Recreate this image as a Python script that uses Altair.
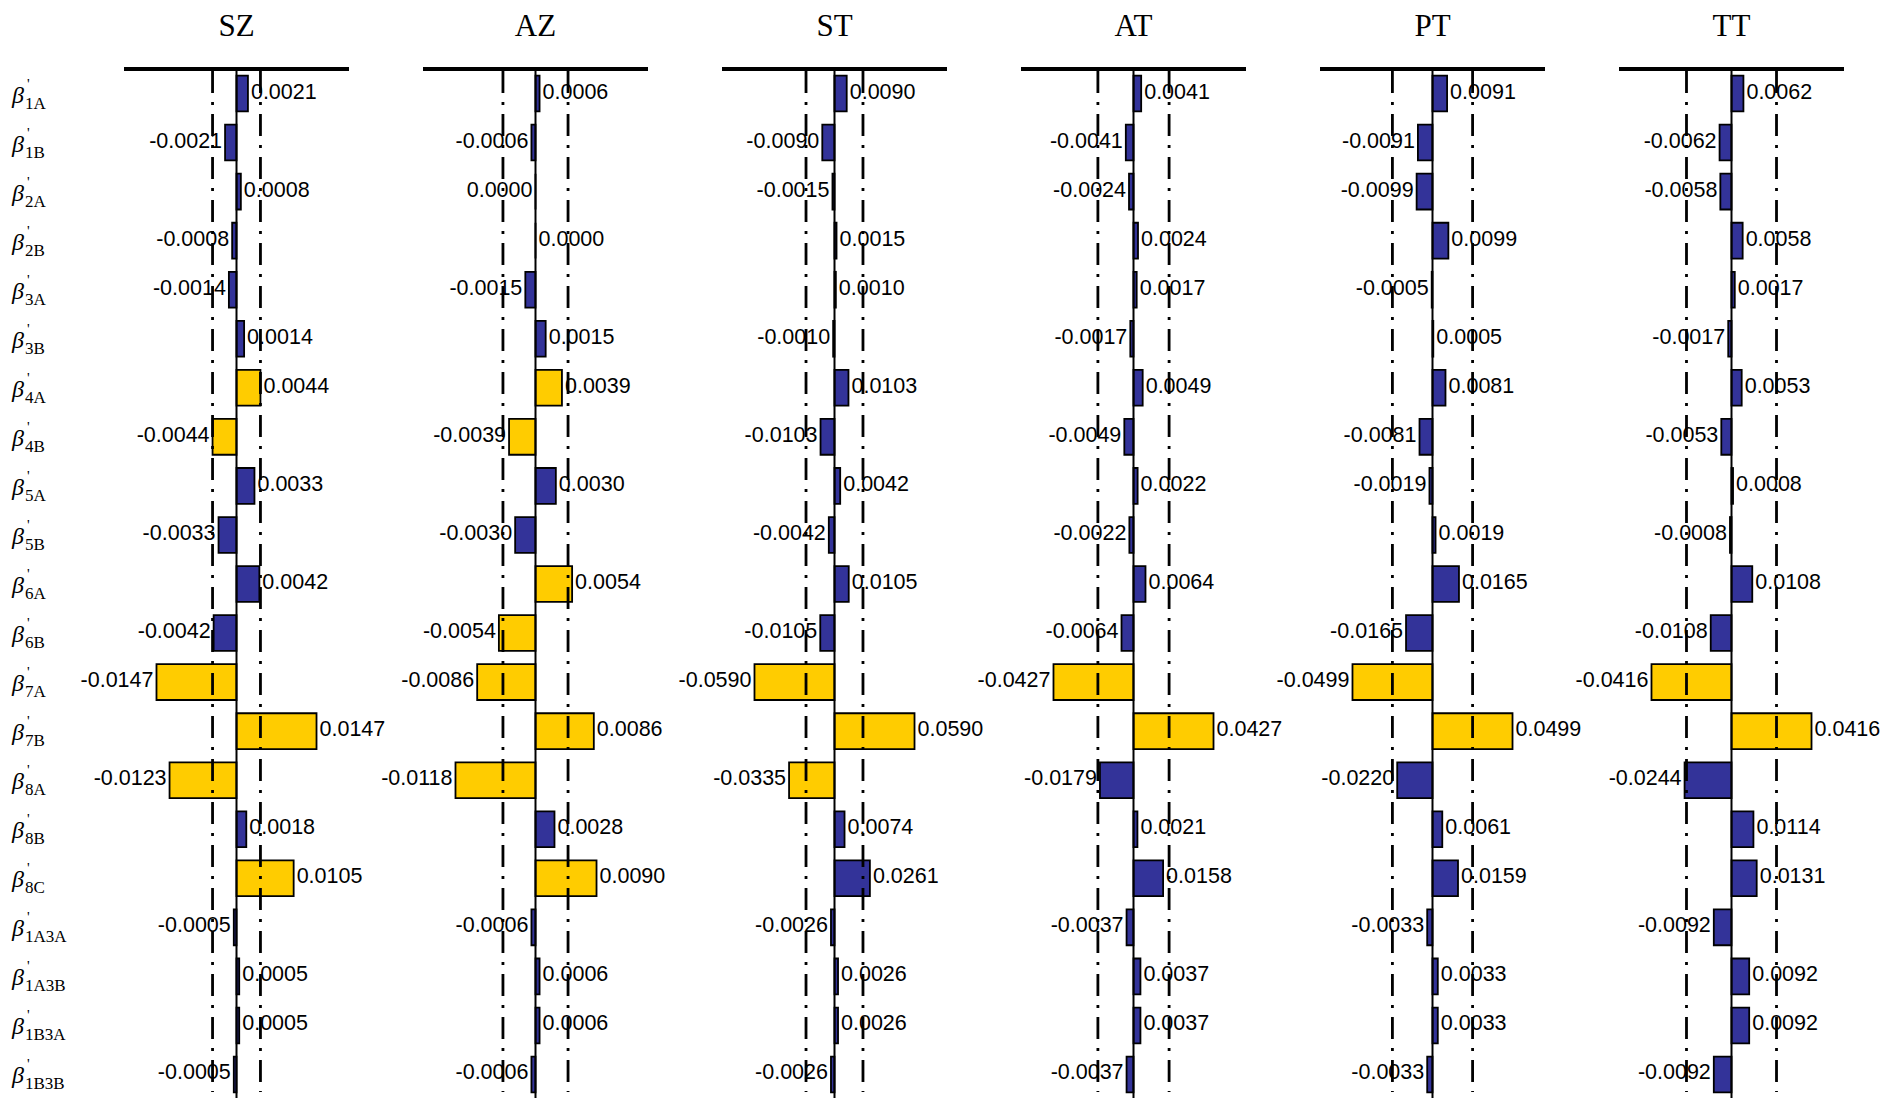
import math

import altair as alt
import pandas as pd

# Parameter rows, top to bottom
params = ["1A", "1B", "2A", "2B", "3A", "3B", "4A", "4B", "5A", "5B", "6A", "6B",
          "7A", "7B", "8A", "8B", "8C", "1A3A", "1A3B", "1B3A", "1B3B"]

# Panels (model outputs)
models = ["SZ", "AZ", "ST", "AT", "PT", "TT"]

# Sensitivity values per panel, in the order of `params`
sz = [0.0021, -0.0021, 0.0008, -0.0008, -0.0014, 0.0014, 0.0044, -0.0044, 0.0033, -0.0033,
      0.0042, -0.0042, -0.0147, 0.0147, -0.0123, 0.0018, 0.0105, -0.0005, 0.0005, 0.0005, -0.0005]
az = [0.0006, -0.0006, -0.0, 0.0, -0.0015, 0.0015, 0.0039, -0.0039, 0.0030, -0.0030,
      0.0054, -0.0054, -0.0086, 0.0086, -0.0118, 0.0028, 0.0090, -0.0006, 0.0006, 0.0006, -0.0006]
st = [0.0090, -0.0090, -0.0015, 0.0015, 0.0010, -0.0010, 0.0103, -0.0103, 0.0042, -0.0042,
      0.0105, -0.0105, -0.0590, 0.0590, -0.0335, 0.0074, 0.0261, -0.0026, 0.0026, 0.0026, -0.0026]
at = [0.0041, -0.0041, -0.0024, 0.0024, 0.0017, -0.0017, 0.0049, -0.0049, 0.0022, -0.0022,
      0.0064, -0.0064, -0.0427, 0.0427, -0.0179, 0.0021, 0.0158, -0.0037, 0.0037, 0.0037, -0.0037]
pt = [0.0091, -0.0091, -0.0099, 0.0099, -0.0005, 0.0005, 0.0081, -0.0081, -0.0019, 0.0019,
      0.0165, -0.0165, -0.0499, 0.0499, -0.0220, 0.0061, 0.0159, -0.0033, 0.0033, 0.0033, -0.0033]
tt = [0.0062, -0.0062, -0.0058, 0.0058, 0.0017, -0.0017, 0.0053, -0.0053, 0.0008, -0.0008,
      0.0108, -0.0108, -0.0416, 0.0416, -0.0244, 0.0114, 0.0131, -0.0092, 0.0092, 0.0092, -0.0092]
series = [sz, az, st, at, pt, tt]

# Parameters flagged as influential in each panel
flagged = [
    ["4A", "4B", "7A", "7B", "8A", "8C"],
    ["4A", "4B", "6A", "6B", "7A", "7B", "8A", "8C"],
    ["7A", "7B", "8A"],
    ["7A", "7B"],
    ["7A", "7B"],
    ["7A", "7B"],
]

# Significance limits (dash-dot reference lines at +/- limit)
limits = [0.0044, 0.0048, 0.021, 0.019, 0.025, 0.0234]

PANEL_W = 225
FULL_H = 1101
TOP = 69
BOTTOM = 1099

BLUE = "#333399"
YELLOW = "#FFCC00"


def y_enc():
    return alt.Y(
        "param:N",
        sort=params,
        axis=None,
        scale=alt.Scale(domain=params, range=[TOP, BOTTOM], paddingInner=0.27, paddingOuter=0.135),
    )


def panel(name, values, hot, limit):
    df = pd.DataFrame({
        "param": params,
        "value": values,
        "zero": [0.0] * len(params),
        "label": [f"{v:z.4f}" for v in values],
        "side": ["neg" if math.copysign(1.0, v) < 0 else "pos" for v in values],
        "level": ["hi" if p in hot else "lo" for p in params],
    })
    half = df["value"].abs().max() * 1.406
    xs = alt.Scale(domain=[-half, half], nice=False, zero=False)
    base = alt.Chart(df)

    bars = base.mark_bar(stroke="black", strokeWidth=1.8).encode(
        x=alt.X("value:Q", scale=xs, axis=None, stack=None),
        x2="zero:Q",
        y=y_enc(),
        color=alt.Color("level:N", scale=alt.Scale(domain=["lo", "hi"], range=[BLUE, YELLOW]), legend=None),
    )

    ref = pd.DataFrame({"v": [-limit, limit]})
    guides = alt.Chart(ref).mark_rule(color="black", strokeWidth=2.8, strokeDash=[22, 9, 3, 9]).encode(
        x=alt.X("v:Q", scale=xs, axis=None),
        y=alt.value(TOP + 2),
        y2=alt.value(1092),
    )

    zero_df = pd.DataFrame({"v": [0.0], "t": [name]})
    zero_line = alt.Chart(zero_df).mark_rule(color="black", strokeWidth=2).encode(
        x=alt.X("v:Q", scale=xs, axis=None),
        y=alt.value(TOP),
        y2=alt.value(1098),
    )
    top_line = alt.Chart(zero_df).mark_rule(color="black", strokeWidth=4).encode(
        x=alt.value(0), x2=alt.value(PANEL_W), y=alt.value(TOP),
    )
    title = alt.Chart(zero_df).mark_text(
        font="Liberation Serif", fontSize=31, baseline="alphabetic", align="center", color="black"
    ).encode(x=alt.value(PANEL_W / 2), y=alt.value(36), text="t:N")

    txt = dict(font="Liberation Sans", fontSize=21.5, baseline="middle", color="black", dy=-1)
    pos = base.transform_filter("datum.side == 'pos'").mark_text(align="left", dx=3, **txt).encode(
        x=alt.X("value:Q", scale=xs, axis=None), y=y_enc(), text="label:N"
    )
    neg = base.transform_filter("datum.side == 'neg'").mark_text(align="right", dx=-3, **txt).encode(
        x=alt.X("value:Q", scale=xs, axis=None), y=y_enc(), text="label:N"
    )

    return alt.layer(bars, guides, zero_line, top_line, pos, neg, title).properties(
        width=PANEL_W, height=FULL_H
    )


# Row labels: beta with a prime and the parameter index as subscript
lab_df = pd.DataFrame({"param": params, "beta": ["β"] * len(params), "prime": ["'"] * len(params)})
lab_base = alt.Chart(lab_df)
beta = lab_base.mark_text(
    font="Liberation Serif", fontSize=24, fontStyle="italic", align="left", baseline="alphabetic", dy=9
).encode(x=alt.value(12), y=y_enc(), text="beta:N")
prime = lab_base.mark_text(
    font="Liberation Serif", fontSize=15, align="left", baseline="alphabetic", dy=-5
).encode(x=alt.value(27), y=y_enc(), text="prime:N")
sub = lab_base.mark_text(
    font="Liberation Serif", fontSize=17, align="left", baseline="alphabetic", dy=15
).encode(x=alt.value(25), y=y_enc(), text="param:N")
labels_chart = alt.layer(beta, prime, sub).properties(width=50, height=FULL_H)

panels = [panel(m, s, f, l) for m, s, f, l in zip(models, series, flagged, limits)]

chart = alt.hconcat(labels_chart, *panels, spacing=74, bounds="flush").properties(
    padding=0, background="white"
).configure_view(stroke=None)

chart.save("out.html", embed_options={"renderer": "svg", "actions": False})
